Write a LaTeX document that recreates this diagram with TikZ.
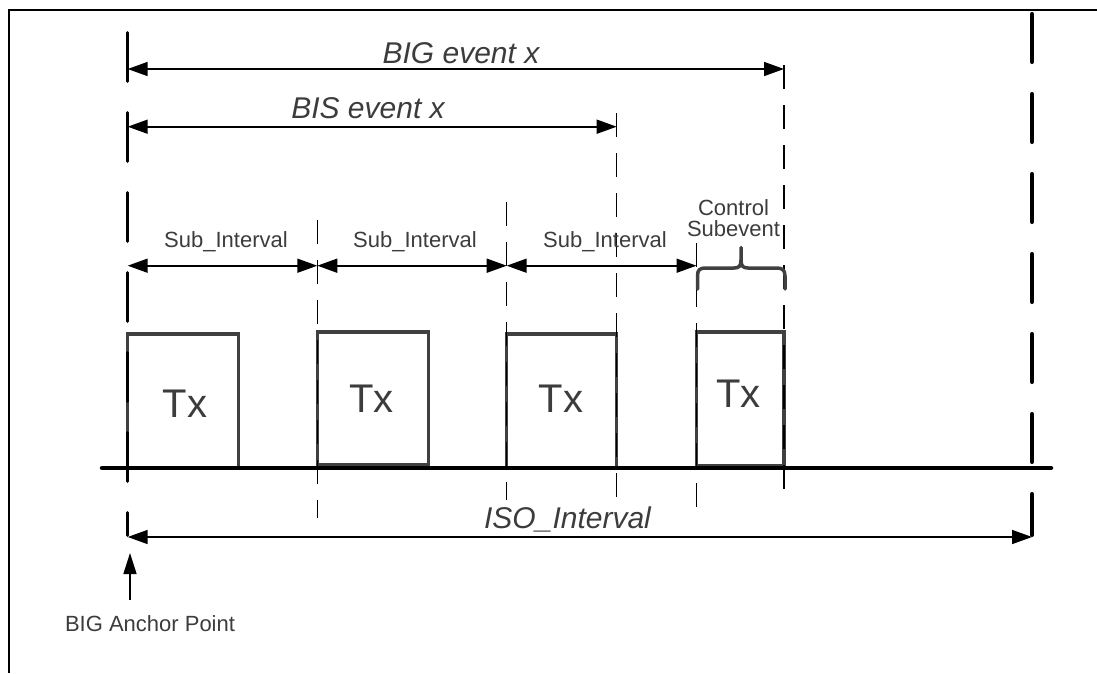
\documentclass[tikz,border=0pt]{standalone}
\usepackage{fontspec}
\setmainfont{Liberation Sans}
\usetikzlibrary{arrows.meta}
\definecolor{txtgray}{HTML}{3C3C3C}
\definecolor{boxgray}{HTML}{404040}
\begin{document}
\begin{tikzpicture}[x=1pt,y=-1pt,
  frameline/.style={line width=2.5pt, black},
  bigdash/.style={line width=3.5pt, black, line cap=round, dash pattern=on 48.5pt off 31.5pt},
  smalldash/.style={line width=1.5pt, black, dash pattern=on 24pt off 16pt},
  axisline/.style={line width=4.5pt, black, line cap=round},
  txbox/.style={draw=boxgray, line width=3.5pt, inner sep=0pt, outer sep=0pt},
  dimarrow/.style={line width=1.6pt, black, {Triangle[length=20pt,width=14pt]}-{Triangle[length=20pt,width=14pt]}},
  onearrow/.style={line width=1.6pt, black, -{Triangle[length=21pt,width=13pt]}},
  bracestyle/.style={line width=3.5pt, boxgray, line cap=round, line join=round},
  lbl/.style={text=txtgray, anchor=base, inner sep=0pt},
  bigit/.style={lbl, font=\fontsize{30}{36}\selectfont\itshape},
  smalltxt/.style={lbl, font=\fontsize{22}{26}\selectfont},
  txfont/.style={lbl, font=\fontsize{40}{48}\selectfont}
]
\useasboundingbox (0,0) rectangle (1097,673);

% frame
\draw[frameline] (1097,10) -- (9,10) -- (9,673);

% Tx boxes
\node[txbox, minimum width=110.6pt, minimum height=134pt] (tx1) at (183,401) {};
\node[txbox, minimum width=111pt, minimum height=133.3pt] (tx2) at (372.8,398.4) {};
\node[txbox, minimum width=110pt, minimum height=134pt] (tx3) at (561.7,401) {};
\node[txbox, minimum width=87.5pt, minimum height=134pt] (tx4) at (740.3,399) {};

% coordinates of the thin dashed lines
\coordinate (d1t) at (317.3,220); \coordinate (d1b) at (317.3,518);
\coordinate (d2t) at (506.7,202); \coordinate (d2b) at (506.7,500);
\coordinate (d3t) at (616.7,113); \coordinate (d3b) at (616.7,500);
\coordinate (d4t) at (696.5,243); \coordinate (d4b) at (696.5,509);
\coordinate (d5t) at (784,65);    \coordinate (d5b) at (784,490);
\draw[smalldash] (d1t) -- (d1b);
\draw[smalldash] (d2t) -- (d2b);
\draw[smalldash] (d3t) -- (d3b);
\draw[smalldash] (d4t) -- (d4b);
\draw[smalldash] (d5t) -- (d5b);

% time axis
\coordinate (axL) at (102,468); \coordinate (axR) at (1051,468);
\draw[axisline] (axL) -- (axR);

% thick dashed lines
\coordinate (L0t) at (127.7,32.75); \coordinate (L0b) at (127.7,535.25);
\coordinate (R0t) at (1032,13.75);  \coordinate (R0b) at (1032,535.25);
\draw[bigdash] (L0t) -- (L0b);
\draw[bigdash] (R0t) -- (R0b);

% dimension arrows
\coordinate (bigL) at (127.7,69);   \coordinate (bigR) at (784,69);
\coordinate (bisL) at (127.7,126.7); \coordinate (bisR) at (616.7,126.7);
\coordinate (s0) at (127.7,265.7); \coordinate (s1) at (317.3,265.7);
\coordinate (s2) at (506.7,265.7); \coordinate (s3) at (696.5,265.7);
\coordinate (isoL) at (127.7,537); \coordinate (isoR) at (1032,537);
\draw[dimarrow] (bigL) -- (bigR);
\draw[dimarrow] (bisL) -- (bisR);
\draw[dimarrow] (s0) -- (s1);
\draw[dimarrow] (s1) -- (s2);
\draw[dimarrow] (s2) -- (s3);
\draw[dimarrow] (isoL) -- (isoR);

% control subevent brace
\draw[bracestyle] (697.5,289) -- (697.5,276) .. controls (697.5,269.5) and (700,268) .. (706,268) -- (734,268) .. controls (739,268) and (741,266) .. (741,260) -- (741,247.5);
\draw[bracestyle] (741,260) .. controls (741,266) and (743,268) .. (748,268) -- (776,268) .. controls (782,268) and (785,269.5) .. (785,276) -- (785,289);

% anchor point arrow
\coordinate (anchFoot) at (130,600); \coordinate (anchTip) at (130,553);
\draw[onearrow] (anchFoot) -- (anchTip);

% texts
\node[bigit] (tbig) at (461,63.3) {BIG event x};
\node[bigit] (tbis) at (368,118) {BIS event x};
\node[bigit] (tiso) at (567.5,528) {ISO\_Interval};
\node[smalltxt] (tsub1) at (226,247.3) {Sub\_Interval};
\node[smalltxt] (tsub2) at (415,247.3) {Sub\_Interval};
\node[smalltxt] (tsub3) at (605,247.3) {Sub\_Interval};
\node[smalltxt] (tctl) at (733.5,215) {Control};
\node[smalltxt] (tsubev) at (733.5,236) {Subevent};
\node[smalltxt] (tanch) at (150,631) {BIG Anchor Point};
\node[txfont] (ttx1) at (185,417) {Tx};
\node[txfont] (ttx2) at (371.5,412.7) {Tx};
\node[txfont] (ttx3) at (561,412) {Tx};
\node[txfont] (ttx4) at (738.5,407) {Tx};
\end{tikzpicture}
\end{document}
